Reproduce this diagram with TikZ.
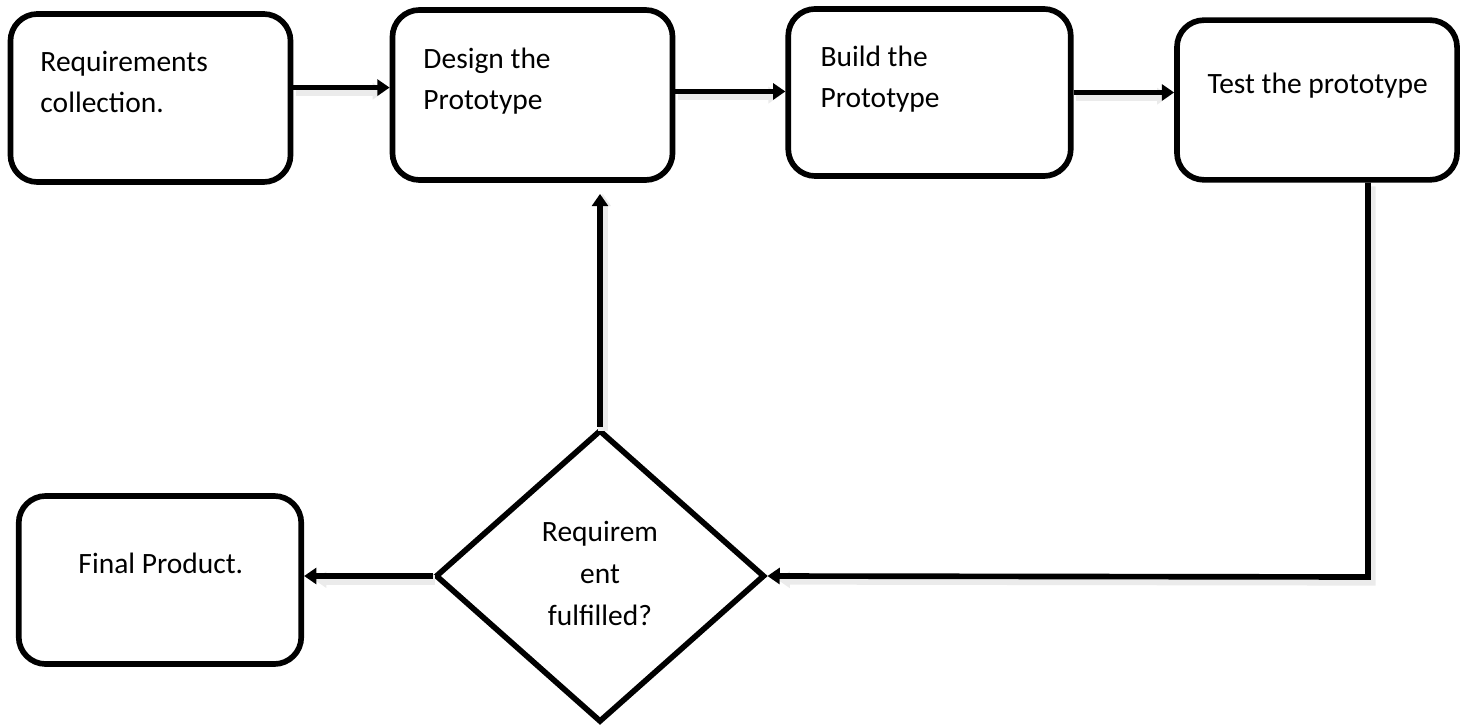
\documentclass[tikz,border=0pt]{standalone}
\usepackage{fontspec}
\setmainfont{Carlito}
\usetikzlibrary{shapes.geometric,arrows.meta,calc}

\begin{document}
\begin{tikzpicture}[x=0.407pt,y=-0.407pt,
  stagebox/.style={draw,line width=2.3pt,rounded corners=11pt,minimum width=114pt,minimum height=68pt,inner sep=0pt},
  decision/.style={draw,line width=2.3pt,diamond,minimum width=134pt,minimum height=119pt,inner sep=0pt},
  lbl/.style={font=\fontsize{12}{16.7}\selectfont,inner sep=0pt,align=left,anchor=base west},
  clbl/.style={font=\fontsize{12}{16.9}\selectfont,inner sep=0pt,align=center,anchor=base},
  softshadow/.style={preaction={draw=black!8,line width=4pt,shorten >=3pt,
      transform canvas={xshift=1.1pt,yshift=-1.5pt}}},
  arr/.style={line width=2.3pt,softshadow,-{Triangle[length=5pt,width=6.5pt]}}]
\useasboundingbox (0,0) rectangle (1465,727);

% process stages
\node[stagebox,minimum width=114pt,minimum height=68.4pt] (req) at (150.5,98) {};
\node[stagebox,minimum width=114pt,minimum height=69.2pt] (des) at (532.5,95) {};
\node[stagebox,minimum width=115pt,minimum height=68pt] (bld) at (929.5,92.5) {};
\node[stagebox,minimum width=114pt,minimum height=65pt] (tst) at (1317,100) {};
\node[stagebox,minimum width=115pt,minimum height=68.4pt] (fin) at (160,580) {};
\node[decision] (dec) at (600,576) {};

% stage labels (anchored on the baseline of the last line)
\node[lbl] (reqt) at (40,113) {Requirements\\collection.};
\node[lbl] (dest) at (423,110) {Design the\\Prototype};
\node[lbl] (bldt) at (820,108) {Build the\\Prototype};
\node[lbl] (tstt) at (1207,94) {Test the prototype};
\node[lbl] (fint) at (78,573) {Final Product.};
\node[clbl] (dect) at (600,625) {Requirem\\ent\\fulfilled?};

% flow
\coordinate (turn) at (1368,577);
\draw[arr] ($(req.north east)!0.44!(req.south east)$) coordinate (a1) -- (a1 -| des.west);
\draw[arr] ($(des.north east)!0.48!(des.south east)$) coordinate (a2) -- (a2 -| bld.west);
\draw[arr] (bld.east) -- (bld.east -| tst.west);
\draw[arr,line join=miter] (tst.south -| turn) -- (turn) -- (dec.east);
\draw[arr,shorten >=4.5pt] (dec.north) -- (dec.north |- des.south);
\draw[arr] (dec.west) -- (dec.west -| fin.east);
\end{tikzpicture}
\end{document}
